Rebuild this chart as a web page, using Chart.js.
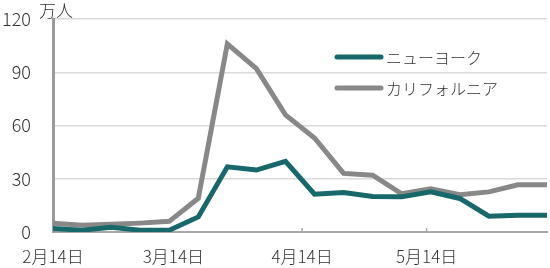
<!DOCTYPE html>
<html>
<head>
<meta charset="utf-8">
<script src="https://cdn.jsdelivr.net/npm/chart.js@4"></script>
<style>
  html, body { margin: 0; padding: 0; background: #fff; }
  #wrap { width: 550px; height: 268px; }
</style>
</head>
<body>
<div id="wrap"><canvas id="myChart"></canvas></div>
<script>
// weekly dates (week ending)
var weeks = ['2020-02-14', '2020-02-21', '2020-02-28', '2020-03-06', '2020-03-13', '2020-03-20',
    '2020-03-27', '2020-04-03', '2020-04-10', '2020-04-17', '2020-04-24', '2020-05-01',
    '2020-05-08', '2020-05-15', '2020-05-22', '2020-05-29', '2020-06-05', '2020-06-12'];
var newYork = [2, 1, 2.7, 1, 1, 8.5, 36.7, 34.9, 39.8, 21.3, 22.2, 20, 19.8, 22.6, 18.9, 8.9, 9.4, 9.4];
var california = [5, 3.8, 4.3, 5, 6, 19, 106, 92, 66, 53, 33, 32, 21.5, 24.3, 21, 22.6, 26.6, 26.6];
var tickDates = ['2020-02-14', '2020-03-14', '2020-04-14', '2020-05-14'];
var tickLabels = ['2月14日', '3月14日', '4月14日', '5月14日'];
var yTicks = [0, 30, 60, 90, 120];

var DAY = 86400000;
var start = Date.parse(weeks[0]);
function dayOf(s) { return Math.round((Date.parse(s) - start) / DAY); }
function points(vals) {
    return vals.map(function (v, i) { return { x: dayOf(weeks[i]), y: v }; });
}
var tickDays = tickDates.map(dayOf);

var font = "'Noto Sans CJK JP', 'Noto Sans', sans-serif";

var extras = {
    id: 'extras',
    beforeDatasetsDraw: function (chart) {
        // small inward tick marks on the x axis
        var ctx = chart.ctx, x = chart.scales.x, bottom = chart.chartArea.bottom;
        ctx.save();
        ctx.strokeStyle = '#a8a8a8';
        ctx.lineWidth = 1.5;
        tickDays.forEach(function (d) {
            var px = x.getPixelForValue(d);
            ctx.beginPath();
            ctx.moveTo(px, bottom);
            ctx.lineTo(px, bottom - 4);
            ctx.stroke();
        });
        ctx.restore();
    },
    afterDraw: function (chart) {
        var ctx = chart.ctx;
        ctx.save();
        ctx.fillStyle = '#333';
        ctx.font = '300 17px ' + font;
        ctx.textBaseline = 'middle';
        ctx.textAlign = 'left';
        ctx.fillText('万人', 39, 11);
        // legend inside the plot
        ctx.font = '300 16px ' + font;
        var rows = [57, 88];
        chart.data.datasets.forEach(function (ds, i) {
            ctx.strokeStyle = ds.borderColor;
            ctx.lineWidth = 5;
            ctx.lineCap = 'round';
            ctx.beginPath();
            ctx.moveTo(337, rows[i]);
            ctx.lineTo(381, rows[i]);
            ctx.stroke();
            ctx.fillText(ds.label, 386, rows[i] + 1);
        });
        ctx.restore();
    }
};

var ctx = document.getElementById('myChart').getContext('2d');
var myChart = new Chart(ctx, {
    type: 'line',
    data: {
        datasets: [{
            label: 'ニューヨーク',
            data: points(newYork),
            borderColor: '#17686b',
            borderWidth: 5,
            pointRadius: 0,
            tension: 0
        }, {
            label: 'カリフォルニア',
            data: points(california),
            borderColor: '#888888',
            borderWidth: 5,
            pointRadius: 0,
            tension: 0
        }]
    },
    options: {
        responsive: true,
        maintainAspectRatio: false,
        animation: false,
        layout: { padding: { top: 19, right: 3, left: 0, bottom: 0 } },
        plugins: {
            legend: { display: false },
            tooltip: { enabled: false }
        },
        scales: {
            x: {
                type: 'linear',
                min: 0,
                max: dayOf(weeks[weeks.length - 1]),
                afterBuildTicks: function (axis) {
                    axis.ticks = tickDays.map(function (d) { return { value: d }; });
                },
                afterFit: function (axis) {
                    axis.height = 36;
                    axis.paddingLeft = 0;
                    axis.paddingRight = 0;
                },
                grid: { display: false },
                border: { color: '#a8a8a8', width: 2 },
                ticks: {
                    autoSkip: false,
                    maxRotation: 0,
                    padding: 6,
                    color: '#333',
                    font: { family: font, size: 17, weight: 300 },
                    callback: function (v) {
                        var i = tickDays.indexOf(v);
                        return i >= 0 ? tickLabels[i] : '';
                    }
                }
            },
            y: {
                min: 0,
                max: 120,
                afterBuildTicks: function (axis) {
                    axis.ticks = yTicks.map(function (v) { return { value: v }; });
                },
                afterFit: function (axis) {
                    axis.width = 53;
                    axis.paddingTop = 0;
                    axis.paddingBottom = 0;
                },
                grid: { color: '#dadada', lineWidth: 1.5, drawTicks: false },
                border: { color: '#9a9a9a', width: 3 },
                ticks: {
                    padding: 22,
                    color: '#333',
                    font: { family: font, size: 18, weight: 300 }
                }
            }
        }
    },
    plugins: [extras]
});
</script>
</body>
</html>
